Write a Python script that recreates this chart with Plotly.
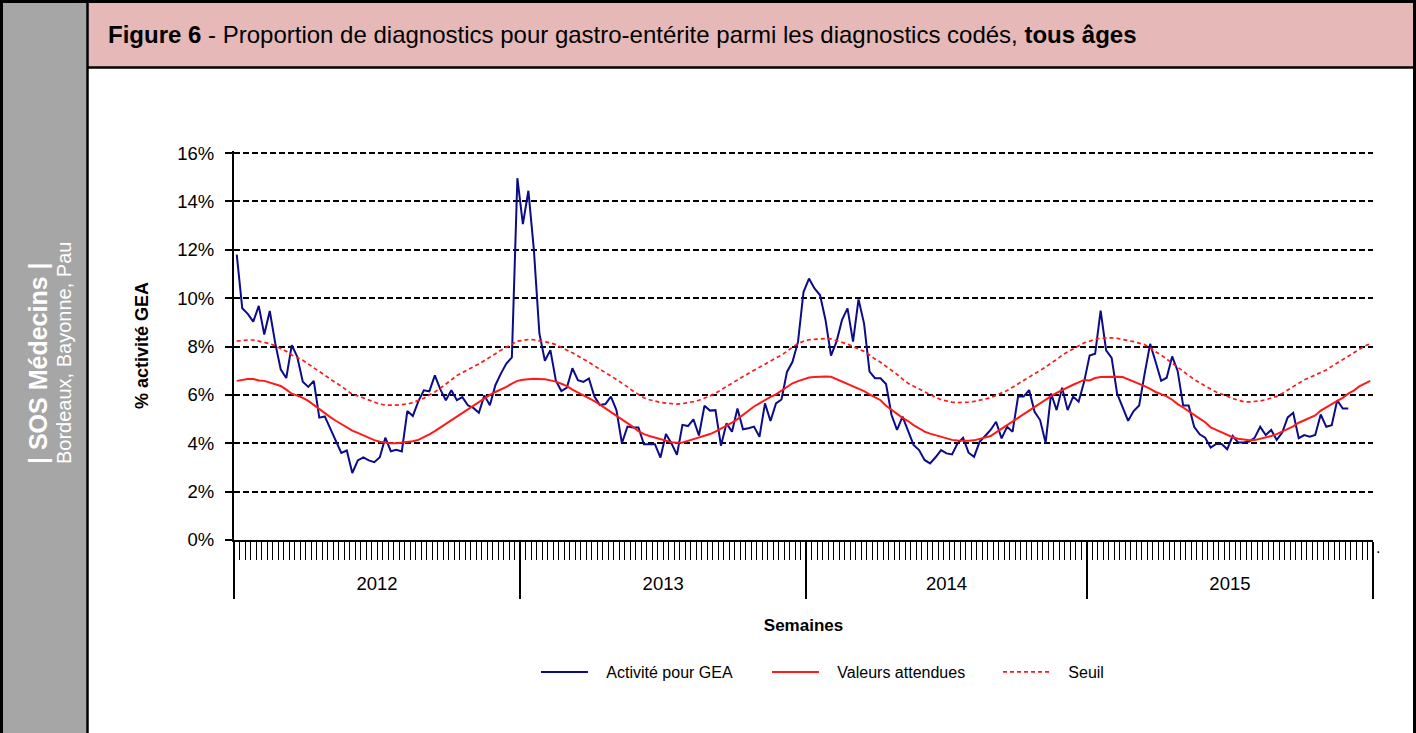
import plotly.graph_objects as go

# ---------------- data ----------------
years = [2012, 2013, 2014, 2015]
weeks_per_year = [52, 52, 51, 52]

act_2012 = [11.8, 9.58, 9.35, 9.03, 9.68, 8.5, 9.47, 8.13, 7.05, 6.7,
            8.06, 7.57, 6.54, 6.33, 6.58, 5.06, 5.11, 4.6, 4.12, 3.6,
            3.7, 2.77, 3.29, 3.42, 3.29, 3.22, 3.42, 4.23, 3.67, 3.73,
            3.66, 5.33, 5.13, 5.73, 6.19, 6.15, 6.81, 6.23, 5.78, 6.19,
            5.78, 5.91, 5.57, 5.46, 5.26, 5.98, 5.57, 6.4, 6.88, 7.3,
            7.55, 14.96]
act_2013 = [13.06, 14.44, 12.0, 8.54, 7.41, 7.85, 6.59, 6.16, 6.3, 7.1,
            6.61, 6.54, 6.68, 5.93, 5.58, 5.62, 5.93, 5.37, 4.0, 4.69,
            4.65, 4.65, 3.96, 3.96, 3.96, 3.41, 4.38, 4.0, 3.52, 4.76,
            4.71, 4.99, 4.32, 5.55, 5.35, 5.37, 3.9, 4.82, 4.48, 5.44,
            4.58, 4.62, 4.69, 4.27, 5.65, 4.92, 5.65, 5.81, 6.95, 7.37,
            8.19, 10.25]
act_2014 = [10.81, 10.4, 10.13, 9.1, 7.62, 8.2, 9.1, 9.58, 8.2, 9.95,
            8.96, 6.96, 6.69, 6.69, 6.45, 5.17, 4.55, 5.1, 4.55, 3.93,
            3.72, 3.31, 3.17, 3.42, 3.72, 3.58, 3.54, 4.0, 4.23, 3.61,
            3.44, 4.06, 4.3, 4.55, 4.89, 4.2, 4.68, 4.48, 5.93, 5.93,
            6.2, 5.3, 4.96, 4.02, 6.06, 5.37, 6.3, 5.37, 5.93, 5.72,
            6.54]
act_2015 = [7.63, 7.7, 9.48, 7.84, 7.53, 6.05, 5.5, 4.93, 5.33, 5.56,
            6.88, 8.11, 7.36, 6.58, 6.71, 7.59, 6.99, 5.56, 5.56, 4.68,
            4.37, 4.23, 3.82, 3.97, 3.97, 3.75, 4.3, 4.03, 4.03, 4.07,
            4.23, 4.68, 4.34, 4.55, 4.14, 4.44, 5.07, 5.26, 4.21, 4.34,
            4.27, 4.34, 5.19, 4.68, 4.75, 5.78, 5.44, 5.44]

exp_2012 = [6.58, 6.62, 6.66, 6.66, 6.60, 6.58, 6.52, 6.45, 6.37, 6.22,
            6.05, 5.97, 5.88, 5.75, 5.58, 5.40, 5.24, 5.08, 4.93, 4.80,
            4.66, 4.52, 4.43, 4.33, 4.22, 4.13, 4.06, 4.02, 4.00, 4.00,
            4.02, 4.05, 4.08, 4.14, 4.24, 4.37, 4.50, 4.65, 4.80, 4.95,
            5.10, 5.26, 5.40, 5.55, 5.70, 5.85, 6.00, 6.12, 6.22, 6.33,
            6.47, 6.58]
exp_2013 = [6.63, 6.66, 6.67, 6.66, 6.65, 6.60, 6.55, 6.46, 6.36, 6.22,
            6.10, 5.98, 5.88, 5.74, 5.60, 5.45, 5.28, 5.12, 4.98, 4.84,
            4.68, 4.50, 4.38, 4.30, 4.23, 4.15, 4.08, 4.04, 4.02, 4.03,
            4.10, 4.17, 4.24, 4.30, 4.38, 4.48, 4.60, 4.72, 4.85, 5.00,
            5.18, 5.35, 5.52, 5.65, 5.80, 5.92, 6.02, 6.18, 6.32, 6.48,
            6.57, 6.64]
exp_2014 = [6.72, 6.74, 6.76, 6.76, 6.75, 6.65, 6.55, 6.45, 6.36, 6.25,
            6.16, 6.02, 5.90, 5.78, 5.55, 5.38, 5.20, 5.05, 4.92, 4.75,
            4.62, 4.48, 4.40, 4.33, 4.28, 4.22, 4.14, 4.11, 4.10, 4.10,
            4.12, 4.17, 4.22, 4.30, 4.45, 4.60, 4.78, 4.92, 5.05, 5.20,
            5.36, 5.52, 5.68, 5.80, 5.95, 6.08, 6.20, 6.32, 6.42, 6.52,
            6.62]
exp_2015 = [6.60, 6.70, 6.74, 6.75, 6.75, 6.75, 6.74, 6.65, 6.55, 6.47,
            6.36, 6.25, 6.12, 6.03, 5.94, 5.80, 5.62, 5.48, 5.32, 5.15,
            5.02, 4.87, 4.66, 4.55, 4.44, 4.35, 4.25, 4.19, 4.15, 4.12,
            4.13, 4.18, 4.22, 4.30, 4.38, 4.48, 4.58, 4.70, 4.85, 4.95,
            5.05, 5.15, 5.35, 5.50, 5.62, 5.75, 5.88, 6.05, 6.18, 6.35,
            6.48, 6.58]

thr_2012 = [8.22, 8.25, 8.27, 8.27, 8.22, 8.18, 8.12, 8.03, 7.92, 7.80,
            7.65, 7.55, 7.43, 7.28, 7.12, 6.95, 6.80, 6.64, 6.50, 6.36,
            6.18, 6.02, 5.96, 5.88, 5.78, 5.70, 5.62, 5.58, 5.57, 5.58,
            5.60, 5.62, 5.68, 5.76, 5.86, 6.00, 6.12, 6.28, 6.44, 6.62,
            6.80, 6.92, 7.02, 7.15, 7.28, 7.42, 7.55, 7.70, 7.85, 7.98,
            8.10, 8.22]
thr_2013 = [8.25, 8.29, 8.28, 8.24, 8.22, 8.15, 8.08, 7.98, 7.85, 7.74,
            7.62, 7.48, 7.35, 7.20, 7.05, 6.92, 6.78, 6.64, 6.50, 6.33,
            6.16, 6.02, 5.88, 5.80, 5.74, 5.69, 5.66, 5.63, 5.62, 5.64,
            5.67, 5.72, 5.78, 5.86, 5.96, 6.07, 6.20, 6.34, 6.48, 6.62,
            6.76, 6.88, 7.00, 7.14, 7.27, 7.40, 7.52, 7.65, 7.80, 7.98,
            8.12, 8.22]
thr_2014 = [8.28, 8.30, 8.32, 8.33, 8.32, 8.25, 8.18, 8.10, 8.00, 7.90,
            7.80, 7.65, 7.48, 7.35, 7.18, 7.03, 6.85, 6.65, 6.48, 6.36,
            6.24, 6.12, 6.00, 5.90, 5.80, 5.74, 5.70, 5.68, 5.68, 5.70,
            5.73, 5.77, 5.82, 5.88, 5.98, 6.08, 6.18, 6.32, 6.46, 6.60,
            6.74, 6.88, 7.00, 7.15, 7.32, 7.46, 7.65, 7.78, 7.90, 8.02,
            8.15]
thr_2015 = [8.22, 8.30, 8.34, 8.36, 8.36, 8.34, 8.30, 8.25, 8.20, 8.14,
            8.08, 7.95, 7.78, 7.65, 7.48, 7.32, 7.16, 6.98, 6.80, 6.64,
            6.50, 6.36, 6.24, 6.12, 6.02, 5.94, 5.85, 5.78, 5.72, 5.71,
            5.72, 5.75, 5.80, 5.86, 5.94, 6.06, 6.20, 6.34, 6.48, 6.62,
            6.72, 6.82, 6.93, 7.03, 7.18, 7.32, 7.45, 7.58, 7.72, 7.88,
            8.02, 8.12]

y_ticks = [0, 2, 4, 6, 8, 10, 12, 14, 16]
series_names = ["Activité pour GEA", "Valeurs attendues", "Seuil"]

# ---------------- derived categories ----------------
categories = [(yr, wk) for yr, n in zip(years, weeks_per_year) for wk in range(1, n + 1)]
n_cat = len(categories)
xpos = [i + 0.5 for i in range(n_cat)]

activity = act_2012 + act_2013 + act_2014 + act_2015
expected = exp_2012 + exp_2013 + exp_2014 + exp_2015
threshold = thr_2012 + thr_2013 + thr_2014 + thr_2015

bounds = [0]
for n in weeks_per_year:
    bounds.append(bounds[-1] + n)
centers = [(bounds[i] + bounds[i + 1]) / 2 for i in range(len(years))]

# ---------------- layout geometry (pixels) ----------------
W, H = 1416, 733
PL, PR, PT, PB = 234, 1373, 151, 540  # plot area edges
YMAX = 16.085  # so that the 16 % gridline sits ~2px under the plot top


def px(xp):
    return (xp - PL) / (PR - PL)


def py(yp):
    return (PB - yp) / (PB - PT)


FONT = "Arial, Liberation Sans, sans-serif"
PAD = "\u00a0\u00a0\u00a0"

fig = go.Figure()
fig.add_trace(go.Scatter(x=xpos[:len(activity)], y=activity, mode="lines",
                         name=PAD + series_names[0],
                         line=dict(color="#0c0c88", width=2)))
fig.add_trace(go.Scatter(x=xpos[:len(expected)], y=expected, mode="lines",
                         name=PAD + series_names[1],
                         line=dict(color="#ff1a1a", width=2)))
fig.add_trace(go.Scatter(x=xpos[:len(threshold)], y=threshold, mode="lines",
                         name=PAD + series_names[2], xaxis="x2",
                         line=dict(color="#ff1a1a", width=1.7, dash="4px,3px")))

shapes = [
    dict(type="rect", xref="paper", yref="paper", x0=px(2), x1=px(87), y0=py(2), y1=py(H + 5),
         fillcolor="#a6a6a6", line=dict(width=0), layer="below"),
    dict(type="rect", xref="paper", yref="paper", x0=px(88), x1=px(1414), y0=py(2), y1=py(67),
         fillcolor="#e6b8b7", line=dict(width=0), layer="below"),
    dict(type="line", xref="paper", yref="paper", x0=px(87.5), x1=px(87.5), y0=py(0), y1=py(H + 5),
         line=dict(color="black", width=2.5)),
    dict(type="line", xref="paper", yref="paper", x0=px(87.5), x1=px(1416), y0=py(67.5), y1=py(67.5),
         line=dict(color="black", width=2.5)),
    dict(type="rect", xref="paper", yref="paper", x0=px(1.5), x1=px(1414.5), y0=py(1.5), y1=py(H + 10),
         fillcolor="rgba(0,0,0,0)", line=dict(color="black", width=3)),
]

annotations = [
    dict(xref="paper", yref="paper", x=px(106), y=py(35), xanchor="left", yanchor="middle",
         text="<b>Figure 6</b> - Proportion de diagnostics pour gastro-entérite parmi les diagnostics codés, <b>tous âges</b>",
         showarrow=False, font=dict(family=FONT, size=24, color="black")),
    dict(xref="paper", yref="paper", x=px(38), y=py(466), xanchor="center", yanchor="bottom",
         text="<b>| SOS Médecins |</b>", textangle=-90, showarrow=False,
         font=dict(family=FONT, size=25, color="white")),
    dict(xref="paper", yref="paper", x=px(64), y=py(466), xanchor="center", yanchor="bottom",
         text="Bordeaux, Bayonne, Pau", textangle=-90, showarrow=False,
         font=dict(family=FONT, size=20, color="white")),
    dict(xref="paper", yref="paper", x=px(1378), y=py(547), xanchor="center", yanchor="middle",
         text=".", showarrow=False, font=dict(family=FONT, size=16, color="black")),
]

fig.update_layout(
    width=W, height=H,
    margin=dict(l=PL, r=W - PR, t=PT, b=H - PB, pad=0),
    paper_bgcolor="white", plot_bgcolor="white",
    font=dict(family=FONT, color="black"),
    showlegend=True,
    legend=dict(orientation="h", xanchor="left", yanchor="middle",
                x=px(536), y=py(672), font=dict(family=FONT, size=16, color="black"),
                itemwidth=47, entrywidth=169, tracegroupgap=0, bgcolor="rgba(0,0,0,0)"),
    xaxis=dict(range=[0, n_cat], showgrid=False, zeroline=False,
               showline=True, linecolor="black", linewidth=2,
               tickmode="array", tickvals=bounds, showticklabels=False,
               ticks="outside", ticklen=57, tickwidth=1.5, tickcolor="black",
               minor=dict(tickmode="array", tickvals=list(range(n_cat + 1)),
                          ticks="outside", ticklen=18, tickwidth=1, tickcolor="black")),
    xaxis2=dict(overlaying="x", matches="x", side="bottom", anchor="y",
                showgrid=False, zeroline=False, showline=False,
                tickmode="array", tickvals=centers, ticktext=[str(y) for y in years],
                ticks="outside", ticklen=27, tickcolor="rgba(0,0,0,0)",
                tickfont=dict(family=FONT, size=18.5, color="black"),
                title=dict(text="<b>Semaines</b>", standoff=25,
                           font=dict(family=FONT, size=17, color="black"))),
    yaxis=dict(range=[0, YMAX], tickmode="array", tickvals=y_ticks,
               ticktext=[f"{v}%" for v in y_ticks],
               showline=True, linecolor="black", linewidth=2,
               ticks="outside", ticklen=7, tickwidth=1.5, tickcolor="black",
               ticklabelstandoff=7,
               tickfont=dict(family=FONT, size=18.5, color="black"),
               showgrid=True, gridcolor="black", gridwidth=1.5, griddash="6px,3px",
               zeroline=False,
               title=dict(text="<b>% activité GEA</b>", standoff=24,
                          font=dict(family=FONT, size=18, color="black"))),
    shapes=shapes, annotations=annotations,
)

fig.write_html("out.html", config={"displayModeBar": False},
               post_script="document.body.style.margin='0px';document.body.style.overflow='hidden';")
